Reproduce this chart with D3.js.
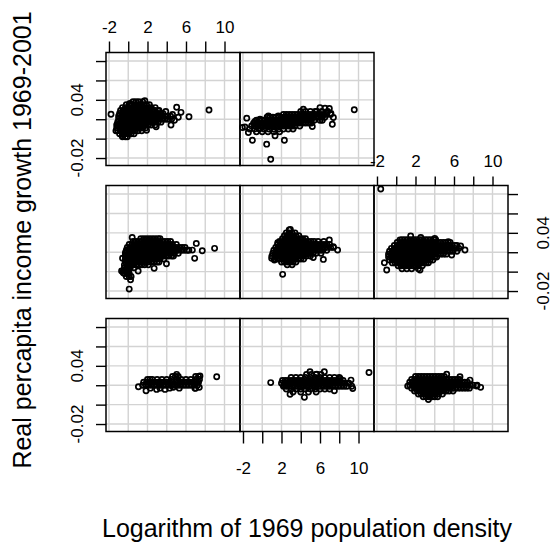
<!DOCTYPE html>
<html>
<head>
<meta charset="utf-8">
<script src="https://cdn.jsdelivr.net/npm/d3@7"></script>
<style>
body { margin: 0; background: #fff; }
svg { display: block; font-family: "Liberation Sans", Arial, sans-serif; }
</style>
</head>
<body>
<div id="chart"></div>
<script>
// ticks and labels
var xTicks = [-2, 0, 2, 4, 6, 8, 10];
var xLabels = [-2, 2, 6, 10];
var yTicks = [-0.02, 0, 0.02, 0.04, 0.06, 0.08];
var yLabels = [-0.02, 0.04];

// dense part of each panel: [y, [x, x, ...]] ; loose points: [x, y]
// panel 1 = bottom left ... panel 8 = top middle
var core1 = [
  [.029, [4.6, 4.9, 5.2, 7.0, 7.3]],
  [.026, [2.0, 2.5, 3.0, 3.5, 4.0, 4.5, 5.0, 5.5, 6.0, 6.5, 7.0, 7.4]],
  [.023, [1.6, 1.9, 2.2, 2.5, 2.8, 3.1, 3.4, 3.7, 4.0, 4.3, 4.6, 4.9, 5.2, 5.5, 5.8, 6.1, 6.4, 6.7, 7.0, 7.3]],
  [.020, [1.5, 1.8, 2.1, 2.4, 2.7, 3.0, 3.3, 3.6, 3.9, 4.2, 4.5, 4.8, 5.1, 5.4, 5.7, 6.0, 6.3, 6.6, 6.9, 7.2]],
  [.017, [2.3, 3.3, 4.3, 5.3, 7.0]]
];
var loose1 = [[1.06,.0184],[1.85,.0143],[9.19,.0288],[7.45,.0295],[7.1,.0237],[7.38,.0178],[6.93,.0168],[5.03,.0312],[2.95,.0157],[3.82,.0157],[4.68,.0178],[2.26,.026]];

var core2 = [
  [.031, [4.6, 5.1, 5.6, 6.1]],
  [.028, [3.0, 3.5, 4.0, 4.5, 5.0, 5.5, 6.0, 6.5, 7.0, 7.5, 8.0]],
  [.025, [2.1, 2.4, 2.7, 3.0, 3.3, 3.6, 3.9, 4.2, 4.5, 4.8, 5.1, 5.4, 5.7, 6.0, 6.3, 6.6, 6.9, 7.2, 7.5, 7.8, 8.1, 8.4]],
  [.022, [2.0, 2.3, 2.6, 2.9, 3.2, 3.5, 3.8, 4.1, 4.4, 4.7, 5.0, 5.3, 5.6, 5.9, 6.2, 6.5, 6.8, 7.1, 7.4, 7.7, 8.0, 8.3, 8.6, 9.0]],
  [.019, [2.2, 2.5, 2.8, 3.1, 3.4, 3.7, 4.0, 4.3, 4.6, 4.9, 5.2, 5.5, 5.8, 6.1, 6.4, 6.7, 7.0, 7.3, 7.6, 7.9, 8.2, 8.5, 8.8, 9.3]],
  [.016, [2.5, 3.0, 3.5, 4.0, 4.5, 5.0, 5.5, 6.0, 6.5, 7.0]],
  [.013, [3.2, 4.0, 4.8, 5.6]]
];
var loose2 = [[0.88,.0227],[11.09,.0331],[2.89,.0106],[4.38,.0075],[4.96,.0339],[6.45,.0339],[5.66,.0315],[8.08,.027],[9.22,.0253],[9.4,.0167],[7.49,.0143],[2.26,.0202]];

var core3 = [
  [.029, [2.0, 2.3, 2.6, 2.9, 3.2, 3.5, 3.8, 4.1, 4.4, 4.7, 5.0]],
  [.026, [1.6, 1.9, 2.2, 2.5, 2.8, 3.1, 3.4, 3.7, 4.0, 4.3, 4.6, 4.9, 5.2, 5.5, 5.8, 6.1, 6.4, 6.6]],
  [.023, [1.4, 1.7, 2.0, 2.3, 2.6, 2.9, 3.2, 3.5, 3.8, 4.1, 4.4, 4.7, 5.0, 5.3, 5.6, 5.9, 6.2, 6.5, 6.8, 7.1, 7.4]],
  [.020, [1.4, 1.7, 2.0, 2.3, 2.6, 2.9, 3.2, 3.5, 3.8, 4.1, 4.4, 4.7, 5.0, 5.3, 5.6, 5.9, 6.2, 6.5, 6.8, 7.1, 7.4, 7.7, 8.0, 8.4]],
  [.017, [1.6, 1.9, 2.2, 2.5, 2.8, 3.1, 3.4, 3.7, 4.0, 4.3, 4.6, 4.9, 5.2, 5.5, 5.8, 6.1, 6.4, 6.7, 7.0, 7.3, 7.6]],
  [.014, [1.9, 2.2, 2.5, 2.8, 3.1, 3.4, 3.7, 4.0, 4.3, 4.6, 4.9, 5.2, 5.5, 5.9]],
  [.011, [2.3, 2.6, 2.9, 3.2, 3.5, 3.8, 4.1, 4.4, 4.8]],
  [.008, [2.8, 3.1, 3.4, 3.7, 4.0, 4.3]]
];
var loose3 = [[1.19,.0191],[3.34,.0053],[5.24,.0314],[6.62,.0287],[8.35,.0191],[8.77,.0178],[7.66,.0253]];

var core4 = [
  [.034, [1.3, 1.6, 1.9, 2.2, 2.5, 2.8, 3.1, 3.3]],
  [.031, [0.5, 0.8, 1.1, 1.4, 1.7, 2.0, 2.3, 2.6, 2.9, 3.2, 3.5, 3.8, 4.1, 4.4]],
  [.028, [0.1, 0.4, 0.7, 1.0, 1.3, 1.6, 1.9, 2.2, 2.5, 2.8, 3.1, 3.4, 3.7, 4.0, 4.3, 4.6, 5.0]],
  [.025, [-0.1, 0.2, 0.5, 0.8, 1.1, 1.4, 1.7, 2.0, 2.3, 2.6, 2.9, 3.2, 3.5, 3.8, 4.1, 4.4, 4.7, 5.0, 5.3, 5.6, 5.9]],
  [.022, [-0.2, 0.1, 0.4, 0.7, 1.0, 1.3, 1.6, 1.9, 2.2, 2.5, 2.8, 3.1, 3.4, 3.7, 4.0, 4.3, 4.6, 4.9, 5.2, 5.5, 5.8, 6.1, 6.3]],
  [.019, [-0.3, 0.0, 0.3, 0.6, 0.9, 1.2, 1.5, 1.8, 2.1, 2.4, 2.7, 3.0, 3.3, 3.6, 3.9, 4.2, 4.5, 4.8, 5.2]],
  [.016, [-0.3, 0.0, 0.3, 0.6, 0.9, 1.2, 1.5, 1.8, 2.1, 2.4, 2.7, 3.0, 3.3, 3.6, 3.9, 4.2, 4.5, 4.7]],
  [.013, [-0.3, 0.0, 0.3, 0.6, 0.9, 1.2, 1.5, 1.8, 2.1, 2.4, 2.7, 3.0, 3.3, 3.7]],
  [.010, [-0.3, 0.0, 0.3, 0.6, 0.9, 1.2, 1.5, 1.8, 2.1, 2.4, 2.7, 3.0, 3.2]],
  [.007, [-0.4, -0.1, 0.2, 0.5, 0.8, 1.1, 1.4, 1.7, 2.1]],
  [.004, [-0.4, -0.1, 0.2, 0.6]],
  [.001, [-0.5, -0.2, 0.0]],
  [-.002, [-0.4, -0.1, 0.1]],
  [-.005, [-0.2, 0.1, 0.3]]
];
var loose4 = [[0.41,.0353],[0.69,.0302],[-0.59,.0138],[-0.24,.0206],[8.97,.024],[7.69,.0216],[7.07,.0291],[6.9,.0137],[6.66,.0222],[3.97,.0082],[2.69,.0034],[1.03,.0006],[0.24,-.0084],[0.1,-.018],[-0.52,-.0011],[-0.69,.0007]];

var core5 = [
  [.043, [2.8]],
  [.040, [2.5, 2.8, 3.1, 3.4]],
  [.037, [2.3, 2.6, 2.9, 3.2, 3.5, 3.8]],
  [.034, [2.1, 2.4, 2.7, 3.0, 3.3, 3.6, 3.9, 4.2, 4.5]],
  [.031, [1.8, 2.1, 2.4, 2.7, 3.0, 3.3, 3.6, 3.9, 4.2, 4.5, 4.8, 5.1, 5.4, 5.8, 6.4]],
  [.028, [1.6, 1.9, 2.2, 2.5, 2.8, 3.1, 3.4, 3.7, 4.0, 4.3, 4.6, 4.9, 5.2, 5.5, 5.8, 6.1, 6.4, 6.7, 7.0]],
  [.025, [1.4, 1.7, 2.0, 2.3, 2.6, 2.9, 3.2, 3.5, 3.8, 4.1, 4.4, 4.7, 5.0, 5.3, 5.6, 5.9, 6.2, 6.5, 6.8, 7.1, 7.4]],
  [.022, [1.2, 1.5, 1.8, 2.1, 2.4, 2.7, 3.0, 3.3, 3.6, 3.9, 4.2, 4.5, 4.8, 5.1, 5.4, 5.7, 6.0, 6.3, 6.7]],
  [.019, [1.1, 1.4, 1.7, 2.0, 2.3, 2.6, 2.9, 3.2, 3.5, 3.8, 4.1, 4.4, 4.7, 5.0, 5.3, 5.6, 6.1]],
  [.016, [1.0, 1.3, 1.6, 1.9, 2.2, 2.5, 2.8, 3.1, 3.4, 3.7, 4.0, 4.3, 4.6, 5.0]],
  [.013, [1.3, 1.6, 1.9, 2.2, 2.5, 2.8, 3.1, 3.4, 3.7, 4.0, 4.3]],
  [.010, [2.0, 2.3, 2.6, 2.9, 3.2, 3.5]],
  [.007, [2.6, 3.1]]
];
var loose5 = [[1.61,.0298],[0.98,.0137],[1.26,.012],[2.12,-.0028],[6.97,.0326],[7.38,.0257],[7.83,.0222],[6.35,.0126],[5.3,.0146],[2.92,.0436]];

var core6 = [
  [.033, [0.6, 0.9, 1.2, 1.5, 1.8, 2.1, 2.4, 2.7, 3.0, 3.3, 3.6, 3.9, 4.1]],
  [.030, [0.1, 0.4, 0.7, 1.0, 1.3, 1.6, 1.9, 2.2, 2.5, 2.8, 3.1, 3.4, 3.7, 4.0, 4.3, 4.6, 4.9, 5.2, 5.6]],
  [.027, [-0.2, 0.1, 0.4, 0.7, 1.0, 1.3, 1.6, 1.9, 2.2, 2.5, 2.8, 3.1, 3.4, 3.7, 4.0, 4.3, 4.6, 4.9, 5.2, 5.5, 5.8, 6.1, 6.3]],
  [.024, [-0.5, -0.2, 0.1, 0.4, 0.7, 1.0, 1.3, 1.6, 1.9, 2.2, 2.5, 2.8, 3.1, 3.4, 3.7, 4.0, 4.3, 4.6, 4.9, 5.2, 5.5, 5.8, 6.1, 6.5]],
  [.021, [-0.7, -0.4, -0.1, 0.2, 0.5, 0.8, 1.1, 1.4, 1.7, 2.0, 2.3, 2.6, 2.9, 3.2, 3.5, 3.8, 4.1, 4.4, 4.7, 5.0, 5.3, 5.6, 5.9, 6.3]],
  [.018, [-0.8, -0.5, -0.2, 0.1, 0.4, 0.7, 1.0, 1.3, 1.6, 1.9, 2.2, 2.5, 2.8, 3.1, 3.4, 3.7, 4.0, 4.3, 4.6, 4.9, 5.2]],
  [.015, [-0.8, -0.5, -0.2, 0.1, 0.4, 0.7, 1.0, 1.3, 1.6, 1.9, 2.2, 2.5, 2.8, 3.1, 3.4, 3.7, 4.0, 4.2]],
  [.012, [-0.7, -0.4, -0.1, 0.2, 0.5, 0.8, 1.1, 1.4, 1.7, 2.0, 2.3, 2.6, 2.9, 3.2, 3.5, 3.8]],
  [.009, [-0.4, -0.1, 0.2, 0.5, 0.8, 1.1, 1.4, 1.7, 2.0, 2.3, 2.6, 2.9, 3.1]],
  [.006, [0.2, 0.5, 0.8, 1.1, 1.4, 1.7, 2.0, 2.3, 2.7]],
  [.003, [0.6, 1.1, 1.6, 2.3]]
];
var loose6 = [[-1.61,.0852],[-1.23,.0092],[-0.99,.0017],[0.39,.0326],[1.5,.0367],[2.55,.0353],[4.0,.0343],[5.41,.0309],[6.69,.0264],[7.14,.0223],[2.47,.0017],[3.34,.0092],[5.76,.0171],[-0.47,.0171]];

var core7 = [
  [.038, [0.5, 0.8, 1.1, 1.5]],
  [.035, [-0.2, 0.1, 0.4, 0.7, 1.0, 1.3, 1.6, 1.9, 2.2]],
  [.032, [-0.6, -0.3, 0.0, 0.3, 0.6, 0.9, 1.2, 1.5, 1.8, 2.1, 2.4, 2.8]],
  [.029, [-0.8, -0.5, -0.2, 0.1, 0.4, 0.7, 1.0, 1.3, 1.6, 1.9, 2.2, 2.5, 2.8, 3.2]],
  [.026, [-0.9, -0.6, -0.3, 0.0, 0.3, 0.6, 0.9, 1.2, 1.5, 1.8, 2.1, 2.4, 2.7, 3.0, 3.3, 3.6]],
  [.023, [-1.0, -0.7, -0.4, -0.1, 0.2, 0.5, 0.8, 1.1, 1.4, 1.7, 2.0, 2.3, 2.6, 2.9, 3.2, 3.5, 3.8, 4.1, 4.4]],
  [.020, [-1.0, -0.7, -0.4, -0.1, 0.2, 0.5, 0.8, 1.1, 1.4, 1.7, 2.0, 2.3, 2.6, 2.9, 3.2, 3.5, 3.8, 4.1, 4.5]],
  [.017, [-1.1, -0.8, -0.5, -0.2, 0.1, 0.4, 0.7, 1.0, 1.3, 1.6, 1.9, 2.2, 2.5, 2.8, 3.1, 3.4]],
  [.014, [-1.2, -0.9, -0.6, -0.3, 0.0, 0.3, 0.6, 0.9, 1.2, 1.5, 1.8, 2.1, 2.4, 2.8]],
  [.011, [-1.2, -0.9, -0.6, -0.3, 0.0, 0.3, 0.6, 0.9, 1.2, 1.5, 1.8]],
  [.008, [-1.1, -0.8, -0.5, -0.2, 0.1, 0.4, 0.7, 1.0, 1.4]],
  [.005, [-0.9, -0.6, -0.3, 0.0, 0.3, 0.6]],
  [.002, [-0.6, -0.3, -0.1]]
];
var loose7 = [[-1.79,.0251],[8.39,.0295],[6.31,.0226],[5.48,.0271],[5.03,.0323],[4.44,.0141],[1.9,.0087],[2.9,.0122],[3.1,.0287],[0.17,.0362],[1.72,.039],[-1.28,.008],[-1.03,.0132],[-0.59,.0029],[4.8,.019],[5.2,.022],[4.6,.025],[3.9,.028]];

var core8 = [
  [.028, [4.0, 4.5, 5.0, 5.5, 6.2, 6.8]],
  [.025, [2.2, 2.5, 2.8, 3.1, 3.4, 3.7, 4.0, 4.3, 4.6, 4.9, 5.2, 5.5, 5.8, 6.1, 6.4, 6.7, 7.1]],
  [.022, [0.5, 0.8, 1.1, 1.4, 1.7, 2.0, 2.3, 2.6, 2.9, 3.2, 3.5, 3.8, 4.1, 4.4, 4.7, 5.0, 5.3, 5.6, 5.9, 6.2, 6.5]],
  [.019, [-0.6, -0.3, 0.0, 0.3, 0.6, 0.9, 1.2, 1.5, 1.8, 2.1, 2.4, 2.7, 3.0, 3.3, 3.6, 3.9, 4.2, 4.5, 4.8, 5.1, 5.4, 6.0]],
  [.016, [-0.9, -0.6, -0.3, 0.0, 0.3, 0.6, 0.9, 1.2, 1.5, 1.8, 2.1, 2.4, 2.7, 3.0, 3.3, 3.6, 3.9, 4.2, 4.5, 4.8, 5.1]],
  [.013, [-1.1, -0.8, -0.5, -0.2, 0.1, 0.4, 0.7, 1.0, 1.3, 1.6, 1.9, 2.2, 2.5, 2.8, 3.1, 3.4, 3.9]],
  [.010, [-1.3, -0.8, -0.3, 0.2, 0.7, 1.2, 1.7, 2.2, 2.7, 3.2]],
  [.007, [-0.6, 0.0, 0.6, 1.2, 1.8]]
];
var loose8 = [[-2.06,.0115],[-1.61,.0211],[-1.44,.0063],[-1.02,-.0016],[0.46,-.0057],[0.88,-.0212],[1.33,.0029],[2.3,-.0016],[9.56,.0297],[7.28,.0149],[6.24,.019],[5.2,.0125],[4.27,.0304],[5.66,.028],[6.0,.032],[6.52,.0314],[6.97,.0311],[7.14,.0259],[7.39,.0218],[6.69,.0269],[0.64,.0235],[1.67,.0235],[-0.75,.0177],[-0.23,.02],[-1.8,.012]];

function points(core, loose) {
  var out = [];
  core.forEach(function(r) {
    r[1].forEach(function(x) { out.push([x, r[0]]); });
  });
  return out.concat(loose);
}

var W = 557, H = 548;
var colX = [106, 240, 374];
var rowY = [52.5, 185.5, 318.5];
var pw = 134, ph = 113;

// row 0 is the top row
var panels = [
  {pts: points(core1, loose1), row: 2, col: 0},
  {pts: points(core2, loose2), row: 2, col: 1},
  {pts: points(core3, loose3), row: 2, col: 2},
  {pts: points(core4, loose4), row: 1, col: 0},
  {pts: points(core5, loose5), row: 1, col: 1},
  {pts: points(core6, loose6), row: 1, col: 2},
  {pts: points(core7, loose7), row: 0, col: 0},
  {pts: points(core8, loose8), row: 0, col: 1}
];

var x = d3.scaleLinear().domain([-2.31, 11.61]).range([0, pw]);
var y = d3.scaleLinear().domain([-0.0277, 0.0888]).range([ph, 0]);

var svg = d3.select('#chart').append('svg')
    .attr('width', W)
    .attr('height', H);

svg.append('rect').attr('width', W).attr('height', H).attr('fill', '#fff');

panels.forEach(function(p) {
  var g = svg.append('g')
      .attr('transform', 'translate(' + colX[p.col] + ',' + rowY[p.row] + ')');

  // grid
  g.selectAll('.gx').data(xTicks).enter().append('line')
    .attr('x1', function(d) { return x(d); })
    .attr('x2', function(d) { return x(d); })
    .attr('y1', 0).attr('y2', ph)
    .style('stroke', '#d3d3d3').style('stroke-width', 1.4);
  g.selectAll('.gy').data(yTicks).enter().append('line')
    .attr('y1', function(d) { return y(d); })
    .attr('y2', function(d) { return y(d); })
    .attr('x1', 0).attr('x2', pw)
    .style('stroke', '#d3d3d3').style('stroke-width', 1.4);

  g.selectAll('circle').data(p.pts).enter().append('circle')
    .attr('cx', function(d) { return x(d[0]); })
    .attr('cy', function(d) { return y(d[1]); })
    .attr('r', 2.6)
    .style('fill', 'none')
    .style('stroke', '#000')
    .style('stroke-width', 1.7);

  g.append('rect')
    .attr('width', pw).attr('height', ph)
    .style('fill', 'none')
    .style('stroke', '#000')
    .style('stroke-width', 1.5);
});

function xfmt(d) { return xLabels.indexOf(d) >= 0 ? d : ''; }

function styleAxis(a) {
  a.select('.domain').remove();
  a.selectAll('.tick line').style('stroke-width', 1.4);
  a.selectAll('text').style('font-size', '17px').style('font-family', '"Liberation Sans", Arial, sans-serif').style('fill', '#000');
}

// x axes: top of top-left, top of middle-right, bottom of bottom-middle
svg.append('g')
  .attr('transform', 'translate(' + colX[0] + ',' + rowY[0] + ')')
  .call(d3.axisTop(x).tickValues(xTicks).tickFormat(xfmt).tickSize(11).tickPadding(9))
  .call(styleAxis);
svg.append('g')
  .attr('transform', 'translate(' + colX[1] + ',' + (rowY[2] + ph) + ')')
  .call(d3.axisBottom(x).tickValues(xTicks).tickFormat(xfmt).tickSize(12).tickPadding(18))
  .call(styleAxis);
svg.append('g')
  .attr('transform', 'translate(' + colX[2] + ',' + rowY[1] + ')')
  .call(d3.axisTop(x).tickValues(xTicks).tickFormat(xfmt).tickSize(9).tickPadding(10))
  .call(styleAxis);

// y axes: left of top row, right of middle row, left of bottom row
function yAxis(row, side) {
  var left = side === 'left';
  var g = svg.append('g')
    .attr('transform', 'translate(' + (left ? colX[0] : colX[2] + pw) + ',' + rowY[row] + ')')
    .call((left ? d3.axisLeft(y) : d3.axisRight(y)).tickValues(yTicks).tickFormat('').tickSize(10))
    .call(styleAxis);
  g.selectAll('.ylab').data(yLabels).enter().append('text')
    .attr('class', 'ylab')
    .attr('transform', function(d) {
      return 'translate(' + (left ? -23 : 41) + ',' + y(d) + ') rotate(-90)';
    })
    .attr('text-anchor', 'middle')
    .style('font-size', '17px')
    .style('fill', '#000')
    .text(function(d) { return d.toFixed(2); });
}
yAxis(0, 'left');
yAxis(1, 'right');
yAxis(2, 'left');

svg.append('text')
  .attr('x', 307).attr('y', 537)
  .attr('text-anchor', 'middle')
  .style('font-size', '25px')
  .text('Logarithm of 1969 population density');

svg.append('text')
  .attr('transform', 'translate(31,240) rotate(-90)')
  .attr('text-anchor', 'middle')
  .style('font-size', '25px')
  .text('Real percapita income growth 1969-2001');
</script>
</body>
</html>
